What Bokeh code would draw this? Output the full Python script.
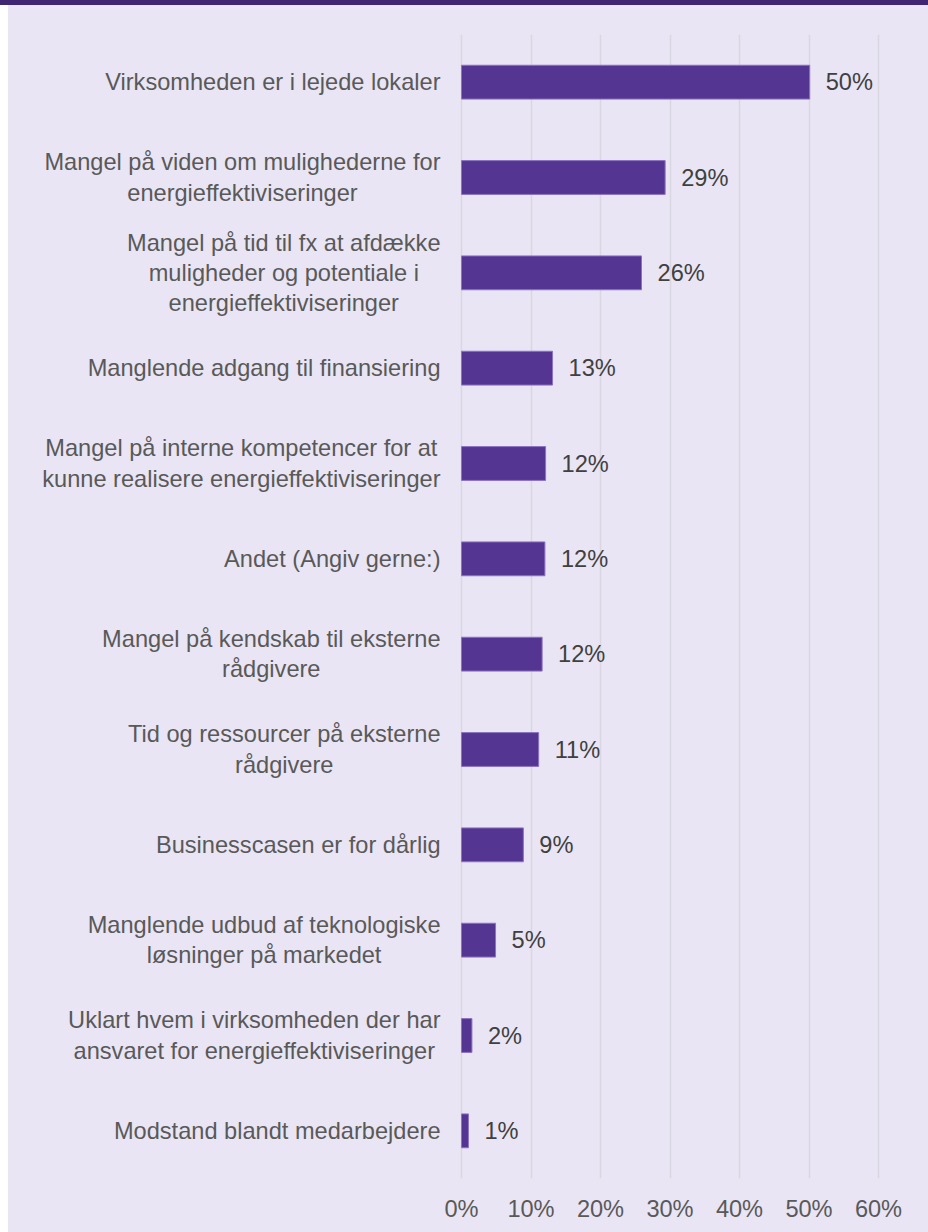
from bokeh.plotting import figure
from bokeh.models import FactorRange, Range1d, FixedTicker, ColumnDataSource
from bokeh.embed import file_html
from bokeh.resources import INLINE
from bokeh.core.properties import value

categories = [
    "Virksomheden er i lejede lokaler",
    "Mangel på viden om mulighederne for\nenergieffektiviseringer",
    "Mangel på tid til fx at afdække\nmuligheder og potentiale i\nenergieffektiviseringer",
    "Manglende adgang til finansiering",
    "Mangel på interne kompetencer for at\nkunne realisere energieffektiviseringer",
    "Andet (Angiv gerne:)",
    "Mangel på kendskab til eksterne\nrådgivere",
    "Tid og ressourcer på eksterne\nrådgivere",
    "Businesscasen er for dårlig",
    "Manglende udbud af teknologiske\nløsninger på markedet",
    "Uklart hvem i virksomheden der har\nansvaret for energieffektiviseringer",
    "Modstand blandt medarbejdere",
]
values = [50.1, 29.3, 25.9, 13.1, 12.1, 12.0, 11.6, 11.1, 8.9, 4.9, 1.5, 1.0]
value_labels = ["50%", "29%", "26%", "13%", "12%", "12%", "12%", "11%", "9%", "5%", "2%", "1%"]
ticks = [0, 10, 20, 30, 40, 50, 60]
tick_labels = ["0%", "10%", "20%", "30%", "40%", "50%", "60%"]

BG = "#E9E5F4"
BAR = "#553592"
BAR_LINE = "#8C72C4"
BAND = "#402672"
FONT = "Liberation Sans"
FS = "23.6px"

src = ColumnDataSource(dict(cat=categories, val=values, lab=value_labels,
                            zero=[0] * len(categories)))

W, H = 928, 1232
LEFT = 8
frame_w = W - LEFT
px_per_unit = 6.95
zero_px = 453.0  # 0% position inside the frame
x_start = -zero_px / px_per_unit
x_end = x_start + frame_w / px_per_unit

p = figure(width=W, height=H, output_backend="svg", toolbar_location=None,
           y_range=FactorRange(factors=list(reversed(categories)), range_padding=0),
           x_range=Range1d(x_start, x_end), y_axis_location=None,
           min_border_left=LEFT, min_border_right=0, min_border_top=34,
           min_border_bottom=54)
p.background_fill_color = None
p.border_fill_color = None
p.outline_line_color = None
p.styles = {
    "background": ("linear-gradient(to bottom, %s 0px, %s 5px, transparent 5px), "
                   "linear-gradient(to right, #FFFFFF 0px, #FFFFFF 8px, transparent 8px), %s")
                  % (BAND, BAND, BG),
}

p.xgrid.ticker = FixedTicker(ticks=ticks)
p.xgrid.grid_line_color = "#D9D7DF"
p.xgrid.grid_line_width = 1.5
p.ygrid.grid_line_color = None

ax = p.xaxis[0]
ax.ticker = FixedTicker(ticks=ticks)
ax.major_label_overrides = {t: l for t, l in zip(ticks, tick_labels)}
ax.axis_line_color = None
ax.major_tick_line_color = None
ax.minor_tick_line_color = None
ax.major_tick_out = 0
ax.major_tick_in = 0
ax.major_label_standoff = 17
ax.major_label_text_font = FONT
ax.major_label_text_font_size = FS
ax.major_label_text_color = "#595959"

p.hbar(y="cat", left="zero", right="val", height=0.355, source=src,
       fill_color=BAR, line_color=BAR_LINE, line_width=1)

p.text(x="val", y="cat", text="lab", source=src, x_offset=16,
       text_align="left", text_baseline="middle",
       text_font=value(FONT), text_font_size=FS, text_color="#404040")

p.text(x="zero", y="cat", text="cat", source=src, x_offset=-21,
       anchor="center_right", text_align="center", text_baseline="middle",
       text_line_height=1.16,
       text_font=value(FONT), text_font_size=FS, text_color="#595959")

open("out.html", "w").write(file_html(p, INLINE))
